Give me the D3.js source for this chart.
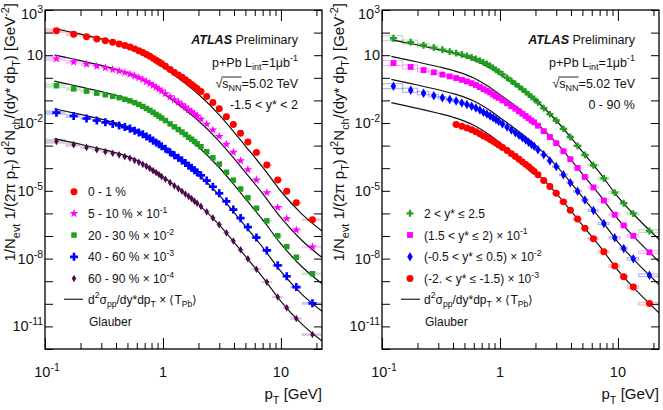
<!DOCTYPE html>
<html><head><meta charset="utf-8">
<script src="https://cdn.jsdelivr.net/npm/d3@7"></script>
<style>
body{margin:0;background:#fff;}
svg{display:block;font-family:"Liberation Sans",Arial,Helvetica,sans-serif;}
</style></head><body>
<svg id="c" width="663" height="410"></svg>
<script>
// ---------------- DATA ----------------
// pT binning [GeV]
const ptEdges = [0.1,0.15,0.2,0.25,0.3,0.35,0.4,0.45,0.5,0.55,0.6,0.65,0.7,0.75,0.8,0.85,0.9,0.95,1.0,
  1.1,1.2,1.3,1.4,1.5,1.6,1.7,1.8,1.9,2.0,2.2,2.5,2.8,3.2,3.7,4.2,4.9,5.6,6.8,8.4,10.4,12.0,15.0,22.0];
const ptCenters = [0.125,0.175,0.225,0.275,0.325,0.375,0.425,0.475,0.525,0.575,0.625,0.675,0.725,0.775,0.825,0.875,0.925,0.975,
  1.05,1.15,1.25,1.35,1.45,1.55,1.65,1.75,1.85,1.95,2.1,2.35,2.65,3.0,3.45,3.95,4.55,5.25,6.2,7.6,9.4,11.2,13.5,18.5];
// systematic half-height (in decades)
const systHalf = [0.11,0.09,0.075,0.065,0.055,0.05,0.045,0.045,0.04,0.04,0.04,0.04,0.04,0.04,0.04,0.04,0.04,0.04,0.04,0.04,0.04,0.04,
  0.04,0.04,0.04,0.04,0.04,0.04,0.04,0.04,0.04,0.04,0.04,0.04,0.04,0.04,0.045,0.045,0.05,0.05,0.055,0.06];

// Left panel: yields, log10 values (already scaled as in legend)
const lgL_0_1   = [2.08,1.93,1.82,1.72,1.64,1.57,1.50,1.43,1.36,1.28,1.20,1.12,1.03,0.95,0.86,0.78,0.70,0.62,0.51,0.37,0.24,0.13,0.02,-0.09,-0.20,-0.29,-0.39,-0.48,-0.61,-0.83,-1.09,-1.37,-1.72,-2.07,-2.45,-2.84,-3.30,-3.86,-4.52,-5.02,-5.53,-6.28];
const lgL_5_10  = [0.84,0.70,0.60,0.51,0.44,0.37,0.30,0.23,0.16,0.08,0.00,-0.08,-0.17,-0.25,-0.34,-0.42,-0.50,-0.58,-0.70,-0.84,-0.97,-1.08,-1.19,-1.30,-1.41,-1.50,-1.60,-1.69,-1.83,-2.05,-2.31,-2.59,-2.94,-3.29,-3.67,-4.06,-4.52,-5.08,-5.74,-6.23,-6.73,-7.48];
const lgL_20_30 = [-0.35,-0.49,-0.59,-0.68,-0.75,-0.82,-0.88,-0.95,-1.02,-1.10,-1.18,-1.27,-1.36,-1.44,-1.53,-1.62,-1.70,-1.78,-1.89,-2.04,-2.17,-2.29,-2.40,-2.51,-2.63,-2.72,-2.82,-2.92,-3.05,-3.27,-3.54,-3.82,-4.18,-4.53,-4.92,-5.31,-5.77,-6.33,-6.99,-7.47,-7.94,-8.67];
const lgL_40_60 = [-1.54,-1.69,-1.80,-1.89,-1.97,-2.04,-2.11,-2.18,-2.25,-2.34,-2.42,-2.50,-2.60,-2.68,-2.78,-2.86,-2.94,-3.03,-3.14,-3.29,-3.43,-3.54,-3.66,-3.77,-3.89,-3.98,-4.09,-4.18,-4.32,-4.55,-4.82,-5.11,-5.47,-5.83,-6.21,-6.61,-7.07,-7.64,-8.30,-8.78,-9.26,-9.98];
const lgL_60_90 = [-2.81,-2.96,-3.08,-3.18,-3.27,-3.34,-3.41,-3.49,-3.56,-3.65,-3.74,-3.83,-3.92,-4.01,-4.11,-4.19,-4.28,-4.37,-4.49,-4.64,-4.78,-4.90,-5.02,-5.14,-5.25,-5.35,-5.46,-5.55,-5.69,-5.93,-6.20,-6.50,-6.86,-7.22,-7.61,-8.01,-8.47,-9.04,-9.70,-10.18,-10.65,-11.36];

// Left panel: pp reference x <T_Pb> (Glauber), log10
const curvePt = [0.12,0.15,0.2,0.3,0.4,0.5,0.6,0.8,1.0,1.5,2.0,3.0,4.0,5.0,7.0,10.0,15.0,22.3];
const lgRefL_0_1   = [2.18,2.07,1.93,1.72,1.555,1.395,1.22,0.845,0.485,-0.195,-0.73,-1.64,-2.40,-3.02,-3.95,-5.02,-6.02,-6.78];
const lgRefL_5_10  = [1.01,0.90,0.76,0.55,0.385,0.225,0.05,-0.325,-0.685,-1.365,-1.90,-2.81,-3.57,-4.19,-5.12,-6.19,-7.19,-7.95];
const lgRefL_20_30 = [-0.15,-0.26,-0.40,-0.61,-0.775,-0.935,-1.11,-1.485,-1.845,-2.525,-3.06,-3.97,-4.73,-5.35,-6.28,-7.35,-8.35,-9.11];
const lgRefL_40_60 = [-1.37,-1.48,-1.62,-1.83,-1.995,-2.155,-2.33,-2.705,-3.065,-3.745,-4.28,-5.19,-5.95,-6.57,-7.50,-8.57,-9.57,-10.33];
const lgRefL_60_90 = [-2.69,-2.80,-2.94,-3.15,-3.315,-3.475,-3.65,-4.025,-4.385,-5.065,-5.60,-6.51,-7.27,-7.89,-8.82,-9.89,-10.89,-11.65];

// Right panel: 0-90 %, rapidity bins, log10
const lgR_fwd   = [1.75,1.58,1.44,1.34,1.24,1.16,1.09,1.03,0.97,0.90,0.83,0.76,0.68,0.61,0.53,0.44,0.35,0.27,0.15,0.00,-0.14,-0.27,-0.39,-0.51,-0.62,-0.73,-0.84,-0.93,-1.09,-1.34,-1.61,-1.89,-2.26,-2.62,-3.01,-3.41,-3.87,-4.45,-5.08,-5.55,-6.01,-6.78];
const lgR_y15   = [0.65,0.48,0.34,0.24,0.14,0.06,-0.01,-0.09,-0.16,-0.24,-0.32,-0.41,-0.50,-0.57,-0.65,-0.74,-0.82,-0.89,-1.00,-1.13,-1.26,-1.37,-1.48,-1.59,-1.69,-1.79,-1.89,-1.97,-2.12,-2.36,-2.62,-2.89,-3.25,-3.60,-3.99,-4.39,-4.85,-5.43,-6.06,-6.53,-6.99,-7.72];
const lgR_mid   = [-0.37,-0.55,-0.68,-0.79,-0.88,-0.96,-1.03,-1.11,-1.18,-1.26,-1.34,-1.43,-1.53,-1.60,-1.69,-1.77,-1.85,-1.92,-2.04,-2.18,-2.31,-2.43,-2.54,-2.65,-2.75,-2.85,-2.95,-3.03,-3.18,-3.41,-3.67,-3.93,-4.29,-4.64,-5.02,-5.41,-5.87,-6.45,-7.08,-7.55,-8.01,-8.74];
const lgR_bwd   = [null,null,null,null,null,null,-2.07,-2.14,-2.22,-2.30,-2.39,-2.48,-2.57,-2.64,-2.73,-2.81,-2.89,-2.97,-3.08,-3.22,-3.36,-3.48,-3.60,-3.72,-3.83,-3.93,-4.04,-4.14,-4.29,-4.54,-4.81,-5.11,-5.49,-5.86,-6.25,-6.66,-7.12,-7.70,-8.33,-8.80,-9.26,-9.99];

const lgRefR_fwd = [1.68,1.58,1.45,1.25,1.09,0.94,0.79,0.47,0.16,-0.46,-0.98,-1.89,-2.65,-3.27,-4.20,-5.27,-6.27,-7.15];
const lgRefR_y15 = [0.95,0.84,0.70,0.49,0.325,0.165,-0.01,-0.385,-0.745,-1.425,-1.96,-2.87,-3.63,-4.25,-5.18,-6.25,-7.25,-8.13];
const lgRefR_mid = [-0.07,-0.18,-0.32,-0.53,-0.695,-0.855,-1.03,-1.405,-1.765,-2.445,-2.98,-3.89,-4.65,-5.27,-6.20,-7.27,-8.27,-9.15];
const lgRefR_bwd = [-1.10,-1.21,-1.35,-1.57,-1.745,-1.915,-2.10,-2.495,-2.875,-3.595,-4.16,-5.11,-5.89,-6.52,-7.45,-8.52,-9.52,-10.40];

// axis ticks
const xMajor = [0.1,1,10];
const xMinor = [0.2,0.3,0.4,0.5,0.6,0.7,0.8,0.9,2,3,4,5,6,7,8,9,20];
const xLabelExp = [-1,0,1];
const yDecades = d3.range(-12,4);
const yLabelExp = [3,1,-2,-5,-8,-11];

// ---------------- DRAWING ----------------
const W=663,H=410, yTop=10, yBot=349, ptMin=0.1, ptMax=22.3, yMin=1e-12, yMax=1e3;
const svg=d3.select("#c");
svg.append("rect").attr("width",W).attr("height",H).attr("fill","#fff");
const defs=svg.append("defs");

function rich(g,x,y,parts,o){
  const fs=o.size;
  const t=g.append("text").attr("x",x).attr("y",y).attr("font-size",fs)
    .attr("text-anchor",o.anchor||"start").attr("fill",o.fill||"#000");
  let shift=0;
  parts.forEach(p=>{
    let target=0,size=fs;
    if(p.sup){target=-fs*0.42;size=fs*0.72;}
    if(p.sub){target=fs*0.3;size=fs*0.72;}
    const ts=t.append("tspan").text(p.t).attr("font-size",size);
    if(target!==shift){ts.attr("dy",target-shift);shift=target;}
    if(p.b) ts.attr("font-weight","bold");
    if(p.i) ts.attr("font-style","italic");
  });
  return t;
}

const sym={
  circle:d3.symbol().type(d3.symbolCircle).size(38),
  star:d3.symbol().type(d3.symbolStar).size(24),
  square:d3.symbol().type(d3.symbolSquare).size(30),
  cross:d3.symbol().type(d3.symbolCross).size(36),
  diamond:d3.symbol().type(d3.symbolDiamond).size(17),
  crossS:d3.symbol().type(d3.symbolCross).size(26),
  squareB:d3.symbol().type(d3.symbolSquare).size(34),
  diamondB:d3.symbol().type(d3.symbolDiamond).size(26)
};

function panel(cfg){
  const x=d3.scaleLog().domain([ptMin,ptMax]).range([cfg.x0,cfg.x1]);
  const y=d3.scaleLog().domain([yMin,yMax]).range([yBot,yTop]);
  const g=svg.append("g");
  defs.append("clipPath").attr("id","clip"+cfg.id).append("rect")
    .attr("x",cfg.x0).attr("y",yTop).attr("width",cfg.x1-cfg.x0).attr("height",yBot-yTop);
  const plot=g.append("g").attr("clip-path",`url(#clip${cfg.id})`);

  // systematic boxes
  cfg.series.forEach(s=>{
    const pts=ptCenters.map((p,i)=>({i,p,v:s.values[i]})).filter(d=>d.v!==null);
    const r=plot.append("g").selectAll("rect").data(pts).join("rect")
      .attr("x",d=>x(ptEdges[d.i]))
      .attr("width",d=>x(ptEdges[d.i+1])-x(ptEdges[d.i]))
      .attr("y",d=>y(10**(d.v+systHalf[d.i])))
      .attr("height",d=>Math.max(1.6,y(10**(d.v-systHalf[d.i]))-y(10**(d.v+systHalf[d.i]))));
    if(cfg.openBoxes) r.attr("fill","none").attr("stroke",s.color).attr("stroke-opacity",0.35).attr("stroke-width",1);
    else r.attr("fill",s.color).attr("fill-opacity",0.22);
  });
  // reference curves
  const line=d3.line().x(d=>x(d[0])).y(d=>y(10**d[1])).curve(d3.curveMonotoneX);
  cfg.curves.forEach(c=>{
    plot.append("path").attr("d",line(c.pt.map((p,i)=>[p,c.v[i]])))
      .attr("fill","none").attr("stroke","#111").attr("stroke-width",1.2);
  });
  // markers
  cfg.series.forEach(s=>{
    const pts=ptCenters.map((p,i)=>({p,v:s.values[i]})).filter(d=>d.v!==null);
    plot.append("g").selectAll("path").data(pts).join("path")
      .attr("d",sym[s.sym]).attr("fill",s.color)
      .attr("transform",d=>`translate(${x(d.p)},${y(10**d.v)})`);
  });

  // axes (ticks inward, on all four sides)
  const ax=(gen,tr)=>g.append("g").attr("transform",tr).call(gen).call(a=>{a.select(".domain").remove();a.selectAll("line").attr("stroke","#000").attr("stroke-width",1);});
  ax(d3.axisBottom(x).tickValues(xMajor).tickSize(-11).tickFormat(""),`translate(0,${yBot})`);
  ax(d3.axisBottom(x).tickValues(xMinor).tickSize(-6).tickFormat(""),`translate(0,${yBot})`);
  ax(d3.axisTop(x).tickValues(xMajor).tickSize(-11).tickFormat(""),`translate(0,${yTop})`);
  ax(d3.axisTop(x).tickValues(xMinor).tickSize(-6).tickFormat(""),`translate(0,${yTop})`);
  const yt=yDecades.map(e=>10**e);
  ax(d3.axisLeft(y).tickValues(yt).tickSize(-8).tickFormat(""),`translate(${cfg.x0},0)`);
  ax(d3.axisRight(y).tickValues(yt).tickSize(-8).tickFormat(""),`translate(${cfg.x1},0)`);
  g.append("rect").attr("x",cfg.x0).attr("y",yTop).attr("width",cfg.x1-cfg.x0).attr("height",yBot-yTop)
    .attr("fill","none").attr("stroke","#000").attr("stroke-width",1.3);

  // tick labels
  xLabelExp.forEach(e=>{
    const parts=e===0?[{t:"1"}]:e===1?[{t:"10"}]:[{t:"10"},{t:String(e),sup:true}];
    rich(g,x(10**e)+(e===-1?2:0),377,parts,{size:14.5,anchor:"middle",fill:"#111"});
  });
  yLabelExp.forEach((e,k)=>{
    const parts=e===1?[{t:"10"}]:[{t:"10"},{t:String(e),sup:true}];
    rich(g,cfg.ylab,y(10**e)+5+(k===0?4:0),parts,{size:14.5,anchor:"end",fill:"#111"});
  });
  // axis titles
  rich(g,cfg.x1,399,[{t:"p"},{t:"T",sub:true},{t:" [GeV]"}],{size:15,anchor:"end",fill:"#111"});
  const tg=g.append("g").attr("transform",`translate(${cfg.ytitle},3) rotate(-90)`);
  rich(tg,0,0,[{t:"1/N"},{t:"evt",sub:true},{t:" 1/(2π p"},{t:"T",sub:true},{t:") d"},{t:"2",sup:true},{t:"N"},{t:"ch",sub:true},
    {t:"/(dy* dp"},{t:"T",sub:true},{t:") [GeV"},{t:"-2",sup:true},{t:"]"}],{size:15,anchor:"end",fill:"#111"});

  // labels top right
  const tx=cfg.textRight;
  rich(g,tx,43.5,[{t:"ATLAS",b:true,i:true},{t:" Preliminary"}],{size:12.5,anchor:"end",fill:"#111"});
  rich(g,tx,66.5,[{t:"p+Pb  L"},{t:"int",sub:true},{t:"=1μb"},{t:"-1",sup:true}],{size:12.5,anchor:"end",fill:"#111"});
  const st=rich(g,tx,87.5,[{t:"√"},{t:"s"},{t:"NN",sub:true},{t:"=5.02 TeV"}],{size:12.5,anchor:"end",fill:"#111"});
  const n=st.node();
  const xa=n.getStartPositionOfChar(1).x, xb=n.getEndPositionOfChar(3).x;
  g.append("line").attr("x1",xa-1).attr("x2",xb).attr("y1",87.5-10.5).attr("y2",87.5-10.5).attr("stroke","#111").attr("stroke-width",0.9);
  rich(g,tx,109,cfg.extra,{size:12.5,anchor:"end",fill:"#111"});

  // legend
  const L=cfg.legend;
  cfg.series.forEach((s,k)=>{
    const cy=L.y0+k*21.7;
    g.append("path").attr("d",sym[s.sym]).attr("fill",s.color).attr("transform",`translate(${L.mx},${cy})`);
    rich(g,L.tx,cy+4.5,s.label,{size:12,fill:"#111"});
  });
  g.append("line").attr("x1",L.l0).attr("x2",L.l1).attr("y1",299.3).attr("y2",299.3).attr("stroke","#333").attr("stroke-width",1.3);
  rich(g,L.tx,303.5,[{t:"d"},{t:"2",sup:true},{t:"σ"},{t:"pp",sub:true},{t:"/dy*dp"},{t:"T",sub:true},{t:" × ⟨T"},{t:"Pb",sub:true},{t:"⟩"}],{size:12,fill:"#111"});
  rich(g,L.tx+1,326,[{t:"Glauber"}],{size:12,fill:"#111"});
}

const red="#ff0000", mag="#ff00ff", grn="#1f9e1f", blu="#0000ff", pur="#4f0a4f";
const xs=(a,b)=>[{t:a},{t:b,sup:true}];

panel({id:"L",x0:45,x1:322,ylab:43,ytitle:15,textRight:298,openBoxes:false,
  extra:[{t:"-1.5 < y* < 2"}],
  legend:{y0:191.7,mx:74,tx:88,l0:64,l1:83},
  series:[
    {values:lgL_0_1,color:red,sym:"circle",label:[{t:"0 - 1 %"}]},
    {values:lgL_5_10,color:mag,sym:"star",label:xs("5 - 10 % × 10","-1")},
    {values:lgL_20_30,color:grn,sym:"square",label:xs("20 - 30 % × 10","-2")},
    {values:lgL_40_60,color:blu,sym:"cross",label:xs("40 - 60 % × 10","-3")},
    {values:lgL_60_90,color:pur,sym:"diamond",label:xs("60 - 90 % × 10","-4")}
  ],
  curves:[
    {pt:curvePt,v:lgRefL_0_1},{pt:curvePt,v:lgRefL_5_10},{pt:curvePt,v:lgRefL_20_30},
    {pt:curvePt,v:lgRefL_40_60},{pt:curvePt,v:lgRefL_60_90}
  ]});

panel({id:"R",x0:382,x1:659,ylab:380,ytitle:344,textRight:635,openBoxes:true,
  extra:[{t:"0 - 90 %"}],
  legend:{y0:213.3,mx:410,tx:424,l0:401,l1:420},
  series:[
    {values:lgR_fwd,color:grn,sym:"crossS",label:[{t:"2 < y* ≤ 2.5"}]},
    {values:lgR_y15,color:mag,sym:"squareB",label:xs("(1.5 < y* ≤ 2) × 10","-1")},
    {values:lgR_mid,color:blu,sym:"diamondB",label:xs("(-0.5 < y* ≤ 0.5) × 10","-2")},
    {values:lgR_bwd,color:red,sym:"circle",label:xs("(-2. < y* ≤ -1.5) × 10","-3")}
  ],
  curves:[
    {pt:curvePt,v:lgRefR_fwd},{pt:curvePt,v:lgRefR_y15},{pt:curvePt,v:lgRefR_mid},{pt:curvePt,v:lgRefR_bwd}
  ]});
</script>
</body></html>
